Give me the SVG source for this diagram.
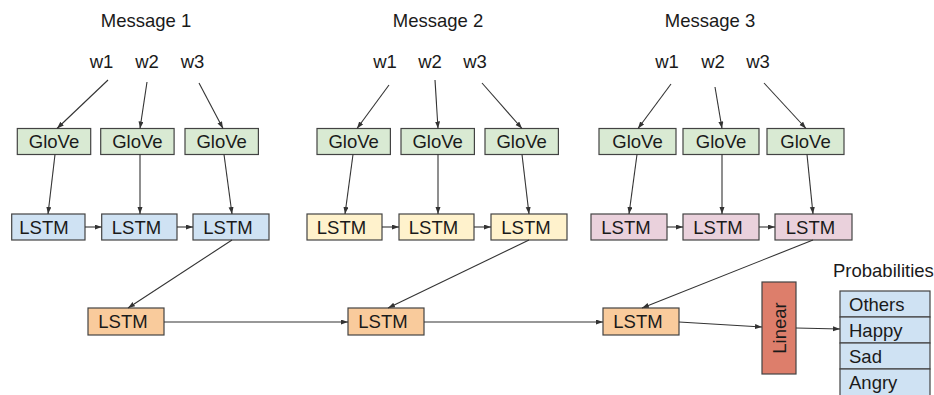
<svg xmlns="http://www.w3.org/2000/svg" width="934" height="395" viewBox="0 0 934 395">
<style>
  text { font-family: "Liberation Sans", Arial, sans-serif; font-size: 18.5px; fill: #1a1a1a; }
  .c { text-anchor: middle; }
  .box { stroke: #434343; stroke-width: 1.2; }
  .glove { fill: #d9ead3; }
  .blue { fill: #cfe2f3; }
  .yellow { fill: #fff2cc; }
  .pink { fill: #ead1dc; }
  .orange { fill: #f9cb9c; }
  .red { fill: #dd7e6b; }
  .conn line { stroke: #333; stroke-width: 1.1; marker-end: url(#ah); }
</style>
<defs>
  <marker id="ah" markerUnits="userSpaceOnUse" markerWidth="8" markerHeight="6" refX="7" refY="2.5" orient="auto">
    <path d="M0,0 L7,2.5 L0,5 z" fill="#333"/>
  </marker>
</defs>
<rect width="934" height="395" fill="#fff"/>

<!-- Message 1 -->
<g id="msg1">
  <text class="c" x="146" y="27">Message 1</text>
  <text class="c" x="101.5" y="68">w1</text>
  <text class="c" x="147" y="68">w2</text>
  <text class="c" x="192.5" y="68">w3</text>
</g>
<g id="m1-glove1"><rect class="box glove" x="17.3" y="128.5" width="73.4" height="26"/><text class="c" x="54" y="148">GloVe</text></g>
<g id="m1-glove2"><rect class="box glove" x="100.7" y="128.5" width="73.4" height="26"/><text class="c" x="137.4" y="148">GloVe</text></g>
<g id="m1-glove3"><rect class="box glove" x="185" y="128.5" width="73.4" height="26"/><text class="c" x="221.7" y="148">GloVe</text></g>
<g id="m1-lstm1"><rect class="box blue" x="11.7" y="214" width="73.3" height="26"/><text class="c" x="44" y="233.5">LSTM</text></g>
<g id="m1-lstm2"><rect class="box blue" x="101.7" y="214" width="75.3" height="26"/><text class="c" x="136.5" y="233.5">LSTM</text></g>
<g id="m1-lstm3"><rect class="box blue" x="193" y="214" width="76" height="26"/><text class="c" x="228" y="233.5">LSTM</text></g>

<!-- Message 2 -->
<g id="msg2">
  <text class="c" x="438" y="27">Message 2</text>
  <text class="c" x="385" y="68">w1</text>
  <text class="c" x="430" y="68">w2</text>
  <text class="c" x="475" y="68">w3</text>
</g>
<g id="m2-glove1"><rect class="box glove" x="317" y="128.5" width="73.4" height="26"/><text class="c" x="353.7" y="148">GloVe</text></g>
<g id="m2-glove2"><rect class="box glove" x="401" y="128.5" width="73.4" height="26"/><text class="c" x="437.7" y="148">GloVe</text></g>
<g id="m2-glove3"><rect class="box glove" x="485" y="128.5" width="73.4" height="26"/><text class="c" x="521.7" y="148">GloVe</text></g>
<g id="m2-lstm1"><rect class="box yellow" x="307" y="214" width="75" height="26"/><text class="c" x="341.5" y="233.5">LSTM</text></g>
<g id="m2-lstm2"><rect class="box yellow" x="399" y="214" width="75" height="26"/><text class="c" x="433.5" y="233.5">LSTM</text></g>
<g id="m2-lstm3"><rect class="box yellow" x="491" y="214" width="76" height="26"/><text class="c" x="526" y="233.5">LSTM</text></g>

<!-- Message 3 -->
<g id="msg3">
  <text class="c" x="710" y="27">Message 3</text>
  <text class="c" x="667" y="68">w1</text>
  <text class="c" x="713" y="68">w2</text>
  <text class="c" x="758" y="68">w3</text>
</g>
<g id="m3-glove1"><rect class="box glove" x="599" y="128.5" width="77" height="26"/><text class="c" x="637.5" y="148">GloVe</text></g>
<g id="m3-glove2"><rect class="box glove" x="683" y="128.5" width="76" height="26"/><text class="c" x="721" y="148">GloVe</text></g>
<g id="m3-glove3"><rect class="box glove" x="767" y="128.5" width="77" height="26"/><text class="c" x="805.5" y="148">GloVe</text></g>
<g id="m3-lstm1"><rect class="box pink" x="591" y="214" width="76" height="26"/><text class="c" x="626" y="233.5">LSTM</text></g>
<g id="m3-lstm2"><rect class="box pink" x="683" y="214" width="76" height="26"/><text class="c" x="718" y="233.5">LSTM</text></g>
<g id="m3-lstm3"><rect class="box pink" x="775" y="214" width="77" height="26"/><text class="c" x="810.5" y="233.5">LSTM</text></g>

<!-- Bottom row -->
<g id="b-lstm1"><rect class="box orange" x="88" y="308" width="76" height="27"/><text class="c" x="123" y="328">LSTM</text></g>
<g id="b-lstm2"><rect class="box orange" x="348" y="308" width="76" height="27"/><text class="c" x="383" y="328">LSTM</text></g>
<g id="b-lstm3"><rect class="box orange" x="603" y="308" width="76" height="27"/><text class="c" x="638" y="328">LSTM</text></g>
<g id="linear"><rect class="box red" x="762" y="282" width="34" height="92"/><text class="c" transform="translate(785.5,328) rotate(-90)" x="0" y="0">Linear</text></g>
<g id="probs">
  <text x="833" y="277">Probabilities</text>
  <rect class="box blue" x="840" y="291" width="90" height="26"/>
  <rect class="box blue" x="840" y="317" width="90" height="26"/>
  <rect class="box blue" x="840" y="343" width="90" height="26"/>
  <rect class="box blue" x="840" y="369" width="90" height="27"/>
  <text x="849" y="311">Others</text>
  <text x="849" y="337">Happy</text>
  <text x="849" y="363">Sad</text>
  <text x="849" y="389">Angry</text>
</g>

<g id="connectors" class="conn">
  <line x1="108" y1="80" x2="57" y2="128.5"/>
  <line x1="147" y1="82" x2="140" y2="128.5"/>
  <line x1="199" y1="83" x2="223" y2="128.5"/>
  <line x1="55" y1="154.5" x2="48" y2="214"/>
  <line x1="140" y1="154.5" x2="140" y2="214"/>
  <line x1="224" y1="154.5" x2="232" y2="214"/>
  <line x1="85" y1="227" x2="101.7" y2="227"/>
  <line x1="177" y1="227" x2="193" y2="227"/>
  <line x1="232" y1="240" x2="128" y2="308"/>

  <line x1="389" y1="85" x2="357" y2="128.5"/>
  <line x1="435" y1="80" x2="438" y2="128.5"/>
  <line x1="482" y1="83" x2="522" y2="128.5"/>
  <line x1="353" y1="154.5" x2="345" y2="214"/>
  <line x1="438" y1="154.5" x2="438" y2="214"/>
  <line x1="522" y1="154.5" x2="529" y2="214"/>
  <line x1="382" y1="227" x2="399" y2="227"/>
  <line x1="474" y1="227" x2="491" y2="227"/>
  <line x1="529" y1="240" x2="388" y2="308"/>

  <line x1="671" y1="84" x2="638" y2="128.5"/>
  <line x1="715" y1="87" x2="722" y2="128.5"/>
  <line x1="764" y1="83" x2="806" y2="128.5"/>
  <line x1="637" y1="154.5" x2="629" y2="214"/>
  <line x1="722" y1="154.5" x2="722" y2="214"/>
  <line x1="807" y1="154.5" x2="813" y2="214"/>
  <line x1="667" y1="227" x2="683" y2="227"/>
  <line x1="759" y1="227" x2="775" y2="227"/>
  <line x1="813" y1="240" x2="642" y2="308"/>

  <line x1="164" y1="322" x2="348" y2="322"/>
  <line x1="424" y1="322" x2="603" y2="322"/>
  <line x1="679" y1="322" x2="762" y2="327"/>
  <line x1="796" y1="328" x2="840" y2="329"/>
</g>
</svg>
